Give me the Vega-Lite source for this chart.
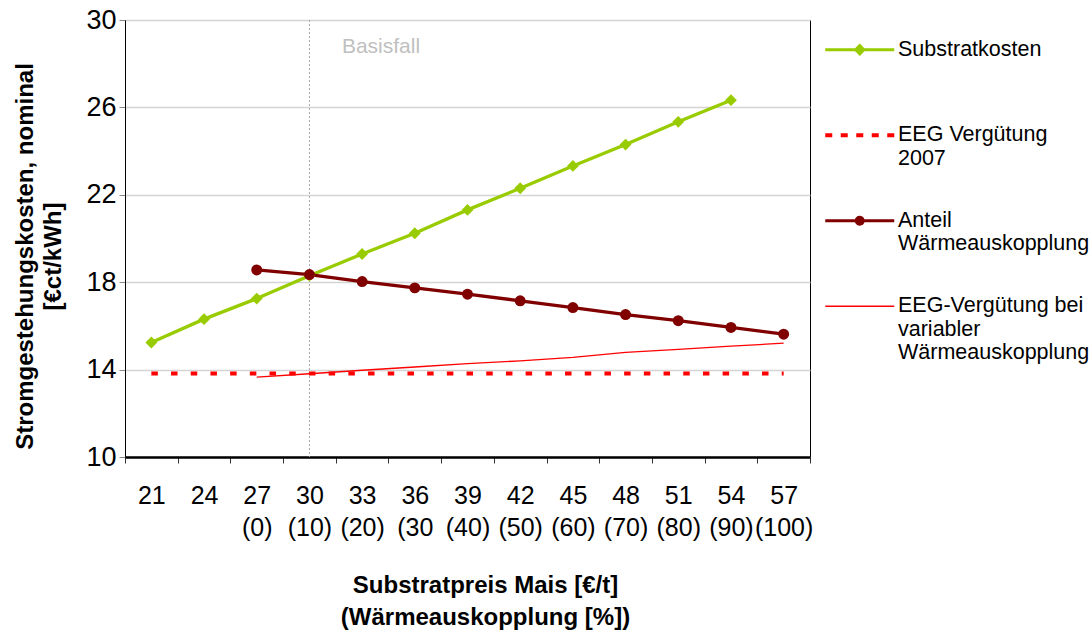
{
  "$schema": "https://vega.github.io/schema/vega-lite/v6.json",
  "width": 685,
  "height": 437,
  "autosize": {"type": "none"},
  "padding": {"left": 125, "top": 20, "right": 280, "bottom": 176},
  "background": "white",
  "config": {"font": "Liberation Sans", "view": {"stroke": "#000000", "strokeWidth": 1}},
  "data": {"values": [
    {"x": "21", "s": "Substratkosten", "v": 15.24},
    {"x": "24", "s": "Substratkosten", "v": 16.31},
    {"x": "27", "s": "Substratkosten", "v": 17.25},
    {"x": "30", "s": "Substratkosten", "v": 18.30},
    {"x": "33", "s": "Substratkosten", "v": 19.29},
    {"x": "36", "s": "Substratkosten", "v": 20.24},
    {"x": "39", "s": "Substratkosten", "v": 21.31},
    {"x": "42", "s": "Substratkosten", "v": 22.30},
    {"x": "45", "s": "Substratkosten", "v": 23.32},
    {"x": "48", "s": "Substratkosten", "v": 24.30},
    {"x": "51", "s": "Substratkosten", "v": 25.34},
    {"x": "54", "s": "Substratkosten", "v": 26.33},
    {"x": "21", "s": "EEG Vergütung 2007", "v": 13.82},
    {"x": "24", "s": "EEG Vergütung 2007", "v": 13.82},
    {"x": "27", "s": "EEG Vergütung 2007", "v": 13.82},
    {"x": "30", "s": "EEG Vergütung 2007", "v": 13.82},
    {"x": "33", "s": "EEG Vergütung 2007", "v": 13.82},
    {"x": "36", "s": "EEG Vergütung 2007", "v": 13.82},
    {"x": "39", "s": "EEG Vergütung 2007", "v": 13.82},
    {"x": "42", "s": "EEG Vergütung 2007", "v": 13.82},
    {"x": "45", "s": "EEG Vergütung 2007", "v": 13.82},
    {"x": "48", "s": "EEG Vergütung 2007", "v": 13.82},
    {"x": "51", "s": "EEG Vergütung 2007", "v": 13.82},
    {"x": "54", "s": "EEG Vergütung 2007", "v": 13.82},
    {"x": "57", "s": "EEG Vergütung 2007", "v": 13.82},
    {"x": "27", "s": "Anteil Wärmeauskopplung", "v": 18.56},
    {"x": "30", "s": "Anteil Wärmeauskopplung", "v": 18.35},
    {"x": "33", "s": "Anteil Wärmeauskopplung", "v": 18.03},
    {"x": "36", "s": "Anteil Wärmeauskopplung", "v": 17.74},
    {"x": "39", "s": "Anteil Wärmeauskopplung", "v": 17.45},
    {"x": "42", "s": "Anteil Wärmeauskopplung", "v": 17.15},
    {"x": "45", "s": "Anteil Wärmeauskopplung", "v": 16.84},
    {"x": "48", "s": "Anteil Wärmeauskopplung", "v": 16.52},
    {"x": "51", "s": "Anteil Wärmeauskopplung", "v": 16.24},
    {"x": "54", "s": "Anteil Wärmeauskopplung", "v": 15.93},
    {"x": "57", "s": "Anteil Wärmeauskopplung", "v": 15.62},
    {"x": "27", "s": "EEG-Vergütung bei variabler Wärmeauskopplung", "v": 13.66},
    {"x": "30", "s": "EEG-Vergütung bei variabler Wärmeauskopplung", "v": 13.81},
    {"x": "33", "s": "EEG-Vergütung bei variabler Wärmeauskopplung", "v": 13.97},
    {"x": "36", "s": "EEG-Vergütung bei variabler Wärmeauskopplung", "v": 14.12},
    {"x": "39", "s": "EEG-Vergütung bei variabler Wärmeauskopplung", "v": 14.27},
    {"x": "42", "s": "EEG-Vergütung bei variabler Wärmeauskopplung", "v": 14.40},
    {"x": "45", "s": "EEG-Vergütung bei variabler Wärmeauskopplung", "v": 14.56},
    {"x": "48", "s": "EEG-Vergütung bei variabler Wärmeauskopplung", "v": 14.79},
    {"x": "51", "s": "EEG-Vergütung bei variabler Wärmeauskopplung", "v": 14.93},
    {"x": "54", "s": "EEG-Vergütung bei variabler Wärmeauskopplung", "v": 15.07},
    {"x": "57", "s": "EEG-Vergütung bei variabler Wärmeauskopplung", "v": 15.21}
  ]},
  "layer": [
    {
      "data": {"values": [{"x": "30"}]},
      "mark": {"type": "rule", "color": "#a8a8a8", "strokeDash": [2, 2], "strokeWidth": 1},
      "encoding": {
        "x": {
          "field": "x", "type": "ordinal", "bandPosition": 0.5,
          "scale": {"type": "band", "domain": ["21","24","27","30","33","36","39","42","45","48","51","54","57"], "paddingInner": 0, "paddingOuter": 0},
          "axis": {
            "title": ["Substratpreis Mais [€/t]", "(Wärmeauskopplung [%])"],
            "titleFontSize": 24, "titleFontWeight": "bold", "titleLineHeight": 32, "titlePadding": 33, "titleX": 360, "titleColor": "#000000",
            "labelExpr": "[datum.label, ['', '', '(0)', '(10)', '(20)', '(30', '(40)', '(50)', '(60)', '(70)', '(80)', '(90)', '(100)'][indexof(['21','24','27','30','33','36','39','42','45','48','51','54','57'], datum.label)]]",
            "labelFontSize": 25, "labelLineHeight": 32, "labelPadding": 20, "labelAngle": 0, "labelColor": "#000000", "labelBaseline": "top", "labelOverlap": false, "labelLimit": 0,
            "tickBand": "extent", "ticks": true, "tickSize": 6, "tickColor": "#333333", "domainColor": "#000000", "domainWidth": 2.5, "grid": false
          }
        }
      }
    },
    {
      "data": {"values": [{"x": "30", "v": 28.75, "t": "Basisfall"}]},
      "mark": {"type": "text", "align": "left", "baseline": "middle", "dx": 32.5, "fontSize": 21, "color": "#c0c0c0"},
      "encoding": {
        "x": {"field": "x", "type": "ordinal", "bandPosition": 0.5},
        "y": {
          "field": "v", "type": "quantitative",
          "scale": {"domain": [10, 30], "nice": false, "zero": false},
          "axis": {
            "title": ["Stromgestehungskosten, nominal", "[€ct/kWh]"],
            "titleFontSize": 24, "titleFontWeight": "bold", "titleLineHeight": 28, "titlePadding": 20, "titleY": 236, "titleColor": "#000000",
            "values": [10, 14, 18, 22, 26, 30],
            "labelFontSize": 27, "labelPadding": 3, "labelColor": "#000000",
            "tickSize": 6, "tickColor": "#888888", "domainColor": "#000000", "domainWidth": 1,
            "gridColor": "#d4d4d4", "gridWidth": 1.5
          }
        },
        "text": {"field": "t"}
      }
    },
    {
      "transform": [{"filter": "datum.s == 'EEG Vergütung 2007'"}],
      "mark": {"type": "line", "strokeWidth": 4, "strokeDash": [6.5, 13.2], "strokeCap": "butt"},
      "encoding": {
        "x": {"field": "x", "type": "ordinal", "bandPosition": 0.5},
        "y": {"field": "v", "type": "quantitative"},
        "color": {
          "field": "s", "type": "nominal",
          "scale": {
            "domain": ["Substratkosten", "EEG Vergütung 2007", "Anteil Wärmeauskopplung", "EEG-Vergütung bei variabler Wärmeauskopplung"],
            "range": ["#99cc00", "#ff0000", "#800000", "#ff0000"]
          },
          "legend": {
            "title": null, "orient": "right", "offset": -6.5, "padding": 19,
            "symbolSize": 4761, "symbolOffset": 26, "labelFontSize": 21.5, "labelLineHeight": 24.5, "labelOffset": 27.5, "labelLimit": 400,
            "rowPadding": 15.5, "labelBaseline": "middle", "labelColor": "#000000",
            "labelExpr": "datum.label == 'Substratkosten' ? ['Substratkosten', ' ', ' '] : datum.label == 'EEG Vergütung 2007' ? ['EEG Vergütung', '2007', ' '] : datum.label == 'Anteil Wärmeauskopplung' ? ['Anteil', 'Wärmeauskopplung', ' '] : ['EEG-Vergütung bei', 'variabler', 'Wärmeauskopplung']",
            "encode": {
              "symbols": {
                "update": {
                  "shape": {"signal": "datum.value == 'Substratkosten' ? 'M-1,0H1M0,-0.12L0.12,0L0,0.12L-0.12,0Z' : datum.value == 'Anteil Wärmeauskopplung' ? 'M-1,0H1M-0.1,0A0.1,0.1,0,1,0,0.1,0A0.1,0.1,0,1,0,-0.1,0Z' : 'M-1,0H1'"},
                  "strokeWidth": {"signal": "datum.value == 'EEG Vergütung 2007' ? 4 : datum.value == 'EEG-Vergütung bei variabler Wärmeauskopplung' ? 1.4 : 3"},
                  "strokeDash": {"signal": "datum.value == 'EEG Vergütung 2007' ? [7, 8.5] : [1, 0]"},
                  "stroke": {"scale": "color", "field": "value"},
                  "fill": {"scale": "color", "field": "value"},
                  "opacity": {"value": 1}
                }
              }
            }
          }
        }
      }
    },
    {
      "transform": [{"filter": "datum.s == 'EEG-Vergütung bei variabler Wärmeauskopplung'"}],
      "mark": {"type": "line", "strokeWidth": 1.3},
      "encoding": {
        "x": {"field": "x", "type": "ordinal", "bandPosition": 0.5},
        "y": {"field": "v", "type": "quantitative"},
        "color": {"field": "s", "type": "nominal"}
      }
    },
    {
      "transform": [{"filter": "datum.s == 'Substratkosten'"}],
      "mark": {"type": "line", "strokeWidth": 3.3},
      "encoding": {
        "x": {"field": "x", "type": "ordinal", "bandPosition": 0.5},
        "y": {"field": "v", "type": "quantitative"},
        "color": {"field": "s", "type": "nominal"}
      }
    },
    {
      "transform": [{"filter": "datum.s == 'Anteil Wärmeauskopplung'"}],
      "mark": {"type": "line", "strokeWidth": 3.3},
      "encoding": {
        "x": {"field": "x", "type": "ordinal", "bandPosition": 0.5},
        "y": {"field": "v", "type": "quantitative"},
        "color": {"field": "s", "type": "nominal"}
      }
    },
    {
      "transform": [{"filter": "datum.s == 'Substratkosten'"}],
      "mark": {"type": "point", "shape": "diamond", "filled": true, "size": 140, "opacity": 1},
      "encoding": {
        "x": {"field": "x", "type": "ordinal", "bandPosition": 0.5},
        "y": {"field": "v", "type": "quantitative"},
        "color": {"field": "s", "type": "nominal"}
      }
    },
    {
      "transform": [{"filter": "datum.s == 'Anteil Wärmeauskopplung'"}],
      "mark": {"type": "point", "shape": "circle", "filled": true, "size": 120, "opacity": 1},
      "encoding": {
        "x": {"field": "x", "type": "ordinal", "bandPosition": 0.5},
        "y": {"field": "v", "type": "quantitative"},
        "color": {"field": "s", "type": "nominal"}
      }
    }
  ]
}
